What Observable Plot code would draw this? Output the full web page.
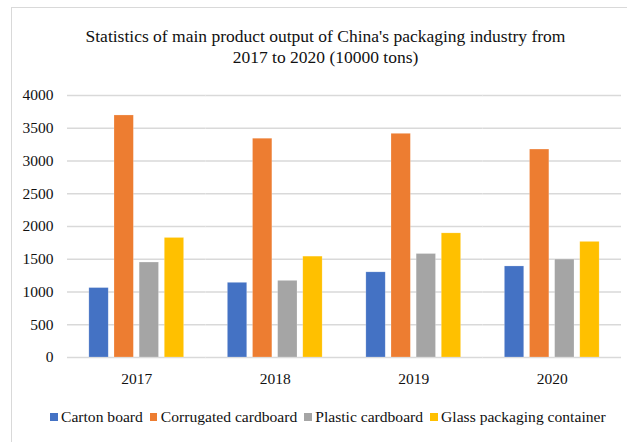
<!DOCTYPE html>
<html>
<head>
<meta charset="utf-8">
<script src="https://cdn.jsdelivr.net/npm/d3@7"></script>
<script src="https://cdn.jsdelivr.net/npm/@observablehq/plot@0.6"></script>
<style>
  html, body { margin: 0; padding: 0; background: #fff; }
  #wrap { position: relative; width: 627px; height: 442px; overflow: hidden; background: #fff; font-family: "Liberation Serif", "Times New Roman", serif; }
  #frame { position: absolute; left: 11px; top: 7px; width: 700px; height: 500px; border-left: 1.5px solid #d9d9d9; border-top: 1.5px solid #d9d9d9; box-sizing: border-box; }
  #title { position: absolute; left: 0; top: 26px; width: 651px; text-align: center; font-size: 17.5px; line-height: 20.5px; color: #111; }
  #chart { position: absolute; left: 0; top: 0; }
  #legend { position: absolute; left: 50px; top: 408px; display: flex; align-items: center; font-size: 15.6px; color: #111; white-space: nowrap; }
  #legend .item { display: flex; align-items: center; margin-right: 7px; }
  #legend .sw { width: 7.5px; height: 7.5px; margin-right: 3.5px; }
</style>
</head>
<body>
<div id="wrap">
  <div id="frame"></div>
  <div id="title">Statistics of main product output of China's packaging industry from<br>2017 to 2020 (10000 tons)</div>
  <div id="chart"></div>
  <div id="legend"></div>
</div>
<script>
const years = ["2017", "2018", "2019", "2020"];
const seriesNames = ["Carton board", "Corrugated cardboard", "Plastic cardboard", "Glass packaging container"];
const cartonBoard = [1060, 1140, 1300, 1390];
const corrugatedCardboard = [3695, 3340, 3415, 3175];
const plasticCardboard = [1450, 1170, 1580, 1495];
const glassContainer = [1825, 1540, 1895, 1765];
const seriesColors = ["#4472C4", "#ED7D31", "#A5A5A5", "#FFC000"];
const yTicks = [0, 500, 1000, 1500, 2000, 2500, 3000, 3500, 4000];

const seriesValues = [cartonBoard, corrugatedCardboard, plasticCardboard, glassContainer];
const rows = [];
years.forEach((year, i) => {
  seriesNames.forEach((name, j) => {
    rows.push({year, series: name, value: seriesValues[j][i]});
  });
});

const chart = Plot.plot({
  width: 627,
  height: 400,
  marginTop: 95,
  marginBottom: 43,
  marginLeft: 67,
  marginRight: 6,
  style: {fontFamily: "'Liberation Serif', 'Times New Roman', serif", fontSize: "15.5px", color: "#111", background: "transparent"},
  facet: {data: rows, x: "year", label: null},
  fx: {domain: years, padding: 0, round: false, tickSize: 0, tickPadding: 15, label: null},
  x: {domain: seriesNames, paddingInner: 0.23, paddingOuter: 0.87, round: false, axis: null},
  y: {domain: [0, 4000], ticks: yTicks, tickSize: 0, tickPadding: 14, label: null, tickFormat: d => String(d)},
  color: {domain: seriesNames, range: seriesColors},
  marks: [
    Plot.ruleY(yTicks, {stroke: "#d9d9d9", strokeWidth: 1.4}),
    Plot.barY(rows, {x: "series", y: "value", fill: "series", stroke: "#ffffff", strokeOpacity: 0.35, strokeWidth: 0.6})
  ]
});
document.getElementById("chart").appendChild(chart);

const legend = document.getElementById("legend");
seriesNames.forEach((name, j) => {
  const item = document.createElement("div");
  item.className = "item";
  const sw = document.createElement("span");
  sw.className = "sw";
  sw.style.background = seriesColors[j];
  const label = document.createElement("span");
  label.textContent = name;
  item.appendChild(sw);
  item.appendChild(label);
  legend.appendChild(item);
});
</script>
</body>
</html>
